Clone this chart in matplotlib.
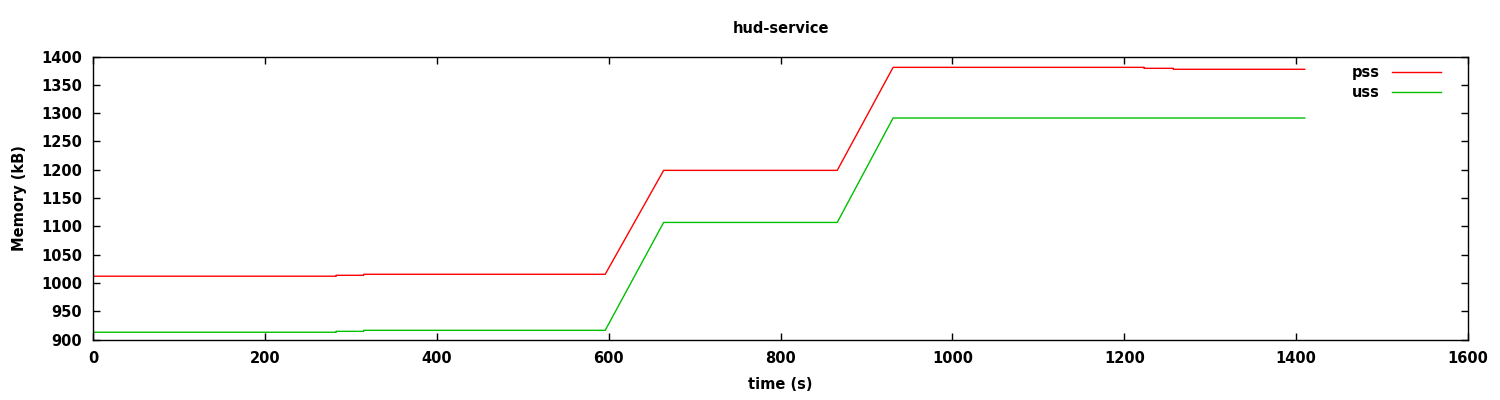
import matplotlib.pyplot as plt
import numpy as np

# time (s) breakpoints
t = [0, 283, 283, 315, 315, 596, 664, 866, 931, 1223, 1223, 1257, 1257, 1410]
pss = [1012, 1012, 1013.6, 1013.6, 1015.4, 1015.4, 1199, 1199, 1381, 1381, 1379.3, 1379.3, 1377.6, 1377.6]
uss = [913, 913, 914.6, 914.6, 916.4, 916.4, 1107, 1107, 1291.5, 1291.5, 1291.5, 1291.5, 1291.5, 1291.5]

xticks = np.arange(0, 1601, 200)
yticks = np.arange(900, 1401, 50)

plt.rcParams['font.family'] = ['DejaVu Sans']
fig = plt.figure(figsize=(15, 4), dpi=100)
ax = fig.add_axes([0.062, 0.151, 0.9167, 0.7075])

ax.plot(t, pss, color='#ff0000', linewidth=1, label='pss')
ax.plot(t, uss, color='#00c000', linewidth=1, label='uss')

ax.set_xlim(0, 1600)
ax.set_ylim(900, 1400)
ax.set_xticks(xticks)
ax.set_yticks(yticks)
ax.tick_params(direction='in', top=True, right=True, length=5, width=1, labelsize=10.5, pad=8)
for lab in ax.get_xticklabels() + ax.get_yticklabels():
    lab.set_fontweight('semibold')
for s in ax.spines.values():
    s.set_linewidth(1)

ax.set_title('hud-service', fontsize=10.5, fontweight='semibold', pad=17)
ax.set_xlabel('time (s)', fontsize=10.5, fontweight='semibold', labelpad=8)
ax.set_ylabel('Memory (kB)', fontsize=10.5, fontweight='semibold', labelpad=10)

leg = ax.legend(loc='upper right', frameon=False, markerfirst=False, handlelength=3.4,
                fontsize=10.5, bbox_to_anchor=(0.99, 1.015), labelspacing=0.3)
for txt in leg.get_texts():
    txt.set_fontweight('semibold')

fig.savefig('out.png', dpi=100)
